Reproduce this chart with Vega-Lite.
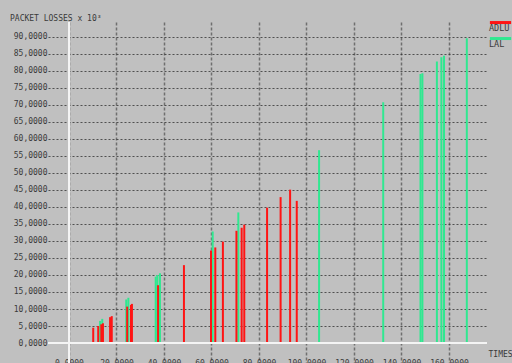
{
  "$schema": "https://vega.github.io/schema/vega-lite/v6.json",
  "width": 439,
  "height": 341,
  "autosize": "none",
  "padding": {"left": 48, "top": 22, "right": 25, "bottom": 0},
  "background": "#c0c0c0",
  "config": {"view": {"stroke": null}, "font": "DejaVu Sans Mono"},
  "title": {
    "text": "PACKET LOSSES x 10³",
    "anchor": "start",
    "frame": "group",
    "dx": -38,
    "offset": -2,
    "fontSize": 8,
    "fontWeight": "normal",
    "font": "DejaVu Sans Mono",
    "color": "#3a3a3a"
  },
  "data": {
    "values": [
      {"series": "LAL", "time": 1.4, "losses": 0.3},
      {"series": "LAL", "time": 13.1, "losses": 6.5},
      {"series": "LAL", "time": 14.0, "losses": 7.1},
      {"series": "LAL", "time": 24.1, "losses": 12.8},
      {"series": "LAL", "time": 25.0, "losses": 13.3},
      {"series": "LAL", "time": 36.5, "losses": 19.5},
      {"series": "LAL", "time": 37.2, "losses": 20.0},
      {"series": "LAL", "time": 38.3, "losses": 20.5},
      {"series": "LAL", "time": 60.5, "losses": 32.8},
      {"series": "LAL", "time": 71.3, "losses": 38.4},
      {"series": "LAL", "time": 105.3, "losses": 56.7},
      {"series": "LAL", "time": 132.3, "losses": 70.8},
      {"series": "LAL", "time": 148.0, "losses": 79.1},
      {"series": "LAL", "time": 148.8, "losses": 79.3},
      {"series": "LAL", "time": 154.9, "losses": 82.8},
      {"series": "LAL", "time": 156.8, "losses": 84.0},
      {"series": "LAL", "time": 157.9, "losses": 84.5},
      {"series": "LAL", "time": 167.5, "losses": 89.6},
      {"series": "ADLU", "time": 10.2, "losses": 4.5},
      {"series": "ADLU", "time": 12.3, "losses": 5.0},
      {"series": "ADLU", "time": 13.6, "losses": 5.5},
      {"series": "ADLU", "time": 14.3, "losses": 5.8},
      {"series": "ADLU", "time": 17.3, "losses": 7.6},
      {"series": "ADLU", "time": 18.0, "losses": 7.9},
      {"series": "ADLU", "time": 24.5, "losses": 10.7},
      {"series": "ADLU", "time": 26.1, "losses": 11.2},
      {"series": "ADLU", "time": 26.5, "losses": 11.5},
      {"series": "ADLU", "time": 37.5, "losses": 17.0},
      {"series": "ADLU", "time": 48.4, "losses": 22.9},
      {"series": "ADLU", "time": 59.8, "losses": 27.2},
      {"series": "ADLU", "time": 61.6, "losses": 28.1},
      {"series": "ADLU", "time": 64.8, "losses": 29.8},
      {"series": "ADLU", "time": 70.5, "losses": 33.0},
      {"series": "ADLU", "time": 72.7, "losses": 33.9},
      {"series": "ADLU", "time": 73.8, "losses": 34.8},
      {"series": "ADLU", "time": 83.4, "losses": 39.8},
      {"series": "ADLU", "time": 89.1, "losses": 42.9},
      {"series": "ADLU", "time": 93.1, "losses": 45.1},
      {"series": "ADLU", "time": 95.9, "losses": 41.8}
    ]
  },
  "layer": [
    {
      "mark": {"type": "rule", "strokeWidth": 2},
      "encoding": {
        "x": {
          "field": "time",
          "type": "quantitative",
          "scale": {"domain": [-8.84, 176], "nice": false, "zero": false},
          "axis": {
            "values": [0, 20, 40, 60, 80, 100, 120, 140, 160],
            "tickCount": 20,
            "format": ".4f",
            "domain": false,
            "ticks": false,
            "tickSize": 0,
            "labelPadding": -4,
            "labelBaseline": "top",
            "labelFontSize": 8,
            "labelColor": "#3a3a3a",
            "labelOverlap": false,
            "labelFlush": false,
            "labelBound": false,
            "grid": true,
            "gridColor": "#5a5a5a",
            "gridDash": [3, 2],
            "gridWidth": 1.5,
            "gridOpacity": 0.8,
            "title": "TIMES",
            "titleX": 440,
            "titleY": -5,
            "titleAlign": "left",
            "titleBaseline": "bottom",
            "titleAnchor": null,
            "titleFontSize": 8,
            "titleFontWeight": "normal",
            "titleColor": "#3a3a3a"
          }
        },
        "y": {
          "field": "losses",
          "type": "quantitative",
          "scale": {"domain": [-5.88, 94.4], "nice": false, "zero": false},
          "axis": {
            "values": [0, 5, 10, 15, 20, 25, 30, 35, 40, 45, 50, 55, 60, 65, 70, 75, 80, 85, 90],
            "tickCount": 40,
            "labelExpr": "replace(format(datum.value, '.4f'), '.', ',')",
            "domain": false,
            "ticks": false,
            "tickSize": 0,
            "labelPadding": 1,
            "labelFontSize": 8,
            "labelColor": "#3a3a3a",
            "labelOverlap": false,
            "grid": true,
            "gridColor": "#333333",
            "gridDash": [2, 2],
            "gridWidth": 1,
            "gridOpacity": 0.8,
            "title": null
          }
        },
        "y2": {"datum": 0},
        "color": {
          "field": "series",
          "type": "nominal",
          "scale": {"domain": ["ADLU", "LAL"], "range": ["#ff1414", "#30e890"]},
          "legend": {
            "orient": "none",
            "legendX": 447,
            "legendY": 0,
            "title": null,
            "symbolType": "M-3,-1.4H3",
            "symbolSize": 50,
            "symbolStrokeWidth": 3,
            "labelOffset": -17,
            "labelBaseline": "middle",
            "labelFontSize": 8.5,
            "labelColor": "#3a3a3a",
            "rowPadding": 0,
            "padding": 0
          }
        }
      }
    },
    {
      "mark": {"type": "rule", "color": "#f4f4f4", "strokeWidth": 1.5},
      "encoding": {"y": {"datum": 0}}
    },
    {
      "mark": {"type": "rule", "color": "#f4f4f4", "strokeWidth": 1.5},
      "encoding": {"x": {"datum": 0}}
    }
  ]
}
